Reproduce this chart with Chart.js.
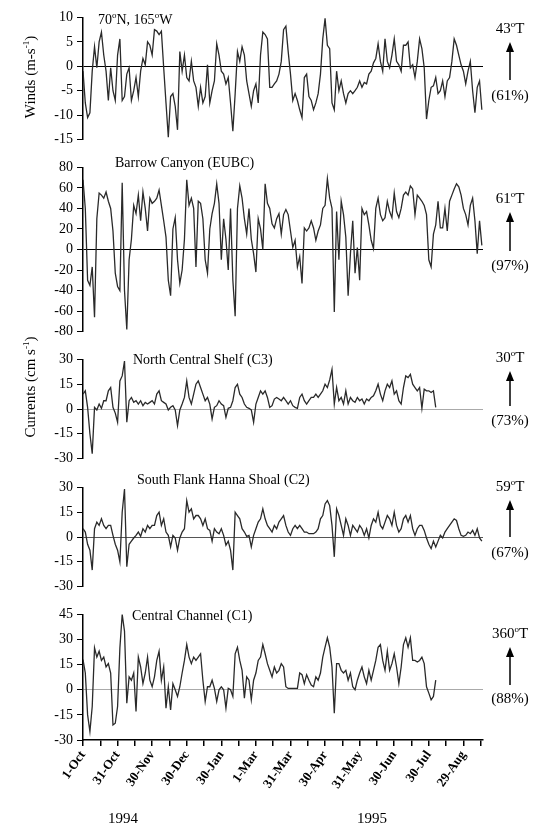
<!DOCTYPE html>
<html>
<head>
<meta charset="utf-8">
<script src="https://cdn.jsdelivr.net/npm/chart.js@4.4.1/dist/chart.umd.min.js"></script>
<style>
  body { margin: 0; background: #fff; }
  #wrap { position: relative; width: 539px; height: 827px; overflow: hidden; font-family: 'Liberation Serif', 'Times New Roman', serif; color: #000; }
  canvas { position: absolute; left: 0; }
  .t { position: absolute; font-size: 14px; line-height: 16px; white-space: nowrap; }
  .r { position: absolute; font-size: 15px; line-height: 16px; white-space: nowrap; transform: translateX(-50%); }
  .ylab { position: absolute; font-size: 15px; line-height: 16px; white-space: nowrap; transform: translate(-50%, -50%) rotate(-90deg); }
  .yr { position: absolute; font-size: 15px; line-height: 16px; transform: translateX(-50%); }
  sup { font-size: 9px; line-height: 0; vertical-align: super; }
</style>
</head>
<body>
<div id="wrap"></div>
<script>
// daily-ish series sampled every 2 days from 1 Oct 1994
const dayStep = 2;
const tickLabels = ['1-Oct', '31-Oct', '30-Nov', '30-Dec', '30-Jan', '1-Mar', '31-Mar', '30-Apr', '31-May', '30-Jun', '30-Jul', '29-Aug'];
const tickDays = [0, 30, 60, 90, 120, 150, 180, 210, 240, 270, 300, 330];

// winds, 70N 165W (m/s)
const winds = [
  -1, -7.5, -10.5, -9.5, -1, 4, -0.3, 5, 7, 2.3,
  -1, -7, -0.3, -5, -7, 2.3, 5.6, -7, -6.2, -1.6,
  -0.3, -7, -5, -2.3, -6.2, -1, 1.6, 0.3, 5, 4.3,
  2.3, 7.5, 7.2, 6.5, 7.2, -0.3, -7.5, -14.5, -6.2, -5.6,
  -8.2, -13, 3, -1, 2.3, -2.3, -3, 1, -3, -4.3,
  -8.2, -4.3, -7.5, -6.2, 0.3, -7.5, -5, -3, 4.6, 2.3,
  -1, -1.6, -3.6, -2.3, -7.5, -13.3, -5.6, 3, 1, 4,
  2.3, -3, -5.6, -8.2, -5, -3.6, -7.5, 2.3, 7, 6.5,
  5.6, -4.3, -4.3, -3.6, -3, -1.6, 1, 7.5, 8.2, 3,
  -1.6, -7, -5.6, -7, -8.9, -10.5, -2.3, -1.6, -6.2, -7,
  -8.9, -7.5, -5.6, -1.6, 5.6, 9.8, 4.3, 3.6, -7.5, -8.9,
  -1, -5, -3, -5.6, -7.5, -5.6, -5, -5.6, -5, -4.3,
  -3, -4.3, -3.3, -3.6, -1.6, -1, 0.7, 1.6, 4.6, 1,
  -1, 5.6, 1, -0.3, 2.3, 5.6, 1, 0.3, -1, 4.3,
  4.3, 5, -0.3, 0.3, -2.3, 1, 5.6, 3.6, -0.3, -10.8,
  -7, -4.3, -4, -2.3, -5.6, -5, -3, -6.2, -3, -2.3,
  1, 5.6, 4.3, 2.3, 0.3, -1, -3.6, -1, 1, -5,
  -9.5, -4.3, -3, -8.9
];

// Barrow Canyon (EUBC) current, cm/s
const barrow = [
  68, 40, -30, -35, -17, -66, 30, 55, 53, 50,
  56, 47, 40, 18, -23, -36, -40, 65, -40, -78,
  -10, 10, 43, 35, 53, 28, 56, 40, 18, 50,
  45, 47, 50, 58, 43, 28, 12, -30, -45, 20,
  31, -10, -33, -20, 10, 68, 43, 50, 40, -17,
  47, 45, 30, -10, -23, 20, 35, 45, 64, 45,
  -10, 30, 10, -20, 40, -30, -65, 40, 62, 50,
  30, 15, 40, 10, -4, -22, 30, 20, 0, 64,
  45, 40, 25, 21, 30, 35, 15, 34, 39, 34,
  18, 2, 9, -17, -7, -33, 21, 18, 21, 28,
  21, 9, 18, 24, 40, 43, 69, 50, 40, -61,
  37, -10, 47, 34, 12, -45, -4, 28, -23, 2,
  -30, 40, 34, 37, 24, 9, 1, 40, 50, 34,
  28, 31, 47, 37, 31, 55, 37, 31, 40, 53,
  56, 53, 62, 59, 34, 53, 50, 47, 43, 34,
  -10, -17, 15, 24, 47, 21, 21, 40, 18, 47,
  53, 59, 64, 61, 53, 40, 34, 24, 43, 50,
  28, -4, 28, 4
];

// North Central Shelf (C3)
const c3 = [
  9, 11, 1, -15, -27, 1, -0.6, 3, 0.4, 5,
  5, 11, 13, 1, -2.5, -8, 17, 20, 29, -8,
  5, 7, 4, 5, 3, 5, 2, 4, 3, 4,
  5, 3, 9, 11, 5, 4, 3, -0.6, 1, 2,
  -0.6, -10, -0.6, 3, 7, 17, 7, 3, 9, 15,
  17, 13, 9, 5, 7, 3, -6, 1, 2, 5,
  3, 2, -5, 0.4, 1, 5, 13, 15, 9, 7,
  3, 1, 0.4, -0.6, -8, 3, 7, 11, 9, 11,
  7, 1, 2, 6, 7, 6, 5, 7, 5, 3,
  5, 2, 1, 0.4, 7, 9, 5, 3, 5, 7,
  7, 9, 7, 9, 11, 15, 13, 17.6, 24, 3,
  13, 5, 7, 3, 11, 3, 7, 5, 4, 7,
  5, 6, 3, 6, 5, 7, 8, 11, 15, 9,
  5, 11, 15, 13, 17, 9, 11, 5, 3, 13,
  20, 19, 21, 15, 13, 11, 13, 0.4, 12, 11,
  11, 10, 11, 1, null, null, null, null, null, null,
  null, null, null, null, null, null, null, null, null, null,
  null, null, null, null
];

// South Flank Hanna Shoal (C2)
const c2 = [
  5, 3, -4.4, -8, -20, 5, 9, 7, 11, 7,
  5, 7, 7, 1, -4.4, -8, -15, 15, 29, -18,
  -4.4, -2.5, -0.6, 1, 3, 0.4, 5, 3, 7, 5,
  7, 7, 13, 15, 7, 11, 3, 1, -6, 1,
  -0.6, -8, -0.6, 3, 5, 22, 15, 17, 11, 13,
  13, 11, 7, 11, 5, 4, -2.5, 5, 3, 2,
  5, 1, -5, -2.5, -8, -20, 15, 13, 11, 5,
  3, 0.4, 1, -6, 1, 5, 9, 11, 17, 11,
  7, 5, 3, 7, 5, 9, 11, 13, 7, 3,
  1, 5, 7, 5, 7, 5, 3, 3, 2, 2,
  2, 3, 5, 11, 13, 20, 22, 19, 7, -12,
  17, 13, 7, 1, 11, 7, 1, 7, 5, 3,
  7, 5, 1, 5, -0.6, 7, 11, 9, 15, 7,
  5, 9, 13, 11, 7, 15, 7, 3, 5, 11,
  13, 9, 13, 5, 1, 5, 7, 7, 4, -0.6,
  -4.4, -7, -2.5, -6, -2.5, 1, -0.6, 3, 5, 7,
  9, 11, 10, 5, 1, 0.4, 1, 3, 2, 4,
  1, 5, -0.6, -2.5
];

// Central Channel (C1)
const c1 = [
  18, 10, -15, -25, -10, 25, 19.5, 23, 17.5, 19.5,
  13.6, 15.6, 10, -21, -20, -10, 25, 45, 35, -8,
  7.7, 5.7, 10, -13, 19.5, 13.6, 3.7, 10, 19.5, 5.7,
  1.8, 7.7, 17.5, 23, 5.7, 13.6, -11, 1.8, -12, 3.7,
  0, -4, 1.8, 10, 17.5, 27, 19.5, 15.6, 19.5, 17.5,
  19.5, 21.5, 5.7, -7, 1.8, 1.8, 5.7, 0.8, -7, 0,
  1.8, 0, -11, 0.8, 0, -4, 21.5, 25.4, 17.5, 11.6,
  -5, 7.7, 5.7, -6, 5.7, 10, 17.5, 19.5, 27, 21.5,
  15.6, 11.6, 7.7, 13.6, 10, 11.6, 15.6, 13.6, 1.8, 0.8,
  0.8, 0.8, 0.8, 0.8, 10, 9, 3.7, 9, 5.7, 2.8,
  1.8, 7.7, 5.7, 10, 19.5, 25.4, 31, 25.4, 13.6, -14,
  15.6, 15.6, 11.6, 10, 11.6, 5.7, 10, 1.8, 0, 5.7,
  10, 13.6, 7.7, 3.7, 11.6, 5.7, 11.6, 17.5, 25.4, 27,
  17.5, 11.6, 23, 11.6, 15.6, 21.5, 13.6, 3.7, 13.6, 27,
  31, 25.4, 31, 17.5, 17.5, 16.6, 17.5, 19.5, 15.6, 1.8,
  -2, -6, -4, 5.7, null, null, null, null, null, null,
  null, null, null, null, null, null, null, null, null, null,
  null, null, null, null
];

const serif = "'Liberation Serif', 'Times New Roman', serif";

const arrowPlugin = {
  id: 'sideArrow',
  afterDraw(chart, args, opts) {
    const c = chart.ctx;
    c.save();
    c.strokeStyle = '#000';
    c.fillStyle = '#000';
    c.lineWidth = 1.5;
    c.beginPath();
    c.moveTo(opts.x, opts.y1);
    c.lineTo(opts.x, opts.y0 + 8);
    c.stroke();
    c.beginPath();
    c.moveTo(opts.x, opts.y0);
    c.lineTo(opts.x - 4, opts.y0 + 10);
    c.lineTo(opts.x + 4, opts.y0 + 10);
    c.closePath();
    c.fill();
    c.restore();
  }
};

const panels = [
  { vals: winds, min: -15, max: 10, step: 5, top: 15, bottom: 142, zero: '#000', arrow: [42, 80] },
  { vals: barrow, min: -80, max: 80, step: 20, top: 165, bottom: 334, zero: '#000', arrow: [212, 251] },
  { vals: c3, min: -30, max: 30, step: 15, top: 357, bottom: 461, zero: '#aaa', arrow: [371, 406] },
  { vals: c2, min: -30, max: 30, step: 15, top: 485, bottom: 589, zero: '#555', arrow: [500, 537] },
  { vals: c1, min: -30, max: 45, step: 15, top: 612, bottom: 740, zero: '#aaa', arrow: [647, 685], xaxis: true }
];

const wrap = document.getElementById('wrap');

panels.forEach(p => {
  const cv = document.createElement('canvas');
  const cTop = p.top - 10;
  const h = p.xaxis ? 827 - cTop : p.bottom - p.top + 20;
  cv.width = 539;
  cv.height = h;
  cv.style.top = cTop + 'px';
  wrap.appendChild(cv);

  new Chart(cv, {
    type: 'line',
    data: {
      datasets: [{
        data: p.vals.map((v, i) => ({ x: i * dayStep, y: v })),
        borderColor: '#2a2a2a',
        borderWidth: 1.3,
        pointRadius: 0,
        tension: 0,
        spanGaps: false
      }]
    },
    options: {
      responsive: false,
      animation: false,
      layout: { padding: { top: 10, bottom: p.xaxis ? 0 : 10, left: 0, right: 56 } },
      plugins: {
        legend: { display: false },
        tooltip: { enabled: false },
        sideArrow: { x: 510, y0: p.arrow[0] - cTop, y1: p.arrow[1] - cTop }
      },
      scales: {
        x: {
          type: 'linear',
          min: 0,
          max: 347,
          display: !!p.xaxis,
          afterBuildTicks: s => { s.ticks = Array.from({ length: 24 }, (_, i) => ({ value: i * 15 })); },
          afterFit: s => { s.height = p.xaxis ? 87 : 0; },
          ticks: {
            autoSkip: false,
            maxRotation: 55,
            minRotation: 55,
            padding: 2,
            color: '#000',
            font: { family: serif, size: 13, weight: 'bold' },
            callback: v => { const k = tickDays.indexOf(v); return k >= 0 ? tickLabels[k] : ''; }
          },
          grid: { drawOnChartArea: false, tickColor: '#000', tickLength: 6, lineWidth: 1.5 },
          border: { color: '#000', width: 1.5 }
        },
        y: {
          min: p.min,
          max: p.max,
          afterFit: s => { s.width = 83; },
          ticks: { stepSize: p.step, color: '#000', padding: 4, font: { family: serif, size: 14 } },
          grid: {
            color: c => c.tick && c.tick.value === 0 ? p.zero : 'rgba(0,0,0,0)',
            tickColor: '#000',
            tickLength: 6,
            lineWidth: 1
          },
          border: { color: '#000', width: 1.5 }
        }
      }
    },
    plugins: [arrowPlugin]
  });
});

const texts = [
  ['t', 98, 12, '70<sup>o</sup>N, 165<sup>o</sup>W'],
  ['t', 115, 155, 'Barrow Canyon (EUBC)'],
  ['t', 133, 352, 'North Central Shelf (C3)'],
  ['t', 137, 472, 'South Flank Hanna Shoal (C2)'],
  ['t', 132, 608, 'Central Channel (C1)'],
  ['r', 510, 20, '43<sup>o</sup>T'], ['r', 510, 87, '(61%)'],
  ['r', 510, 190, '61<sup>o</sup>T'], ['r', 510, 257, '(97%)'],
  ['r', 510, 349, '30<sup>o</sup>T'], ['r', 510, 412, '(73%)'],
  ['r', 510, 478, '59<sup>o</sup>T'], ['r', 510, 544, '(67%)'],
  ['r', 510, 625, '360<sup>o</sup>T'], ['r', 510, 690, '(88%)'],
  ['yr', 123, 810, '1994'], ['yr', 372, 810, '1995']
];
texts.forEach(([cls, x, y, html]) => {
  const d = document.createElement('div');
  d.className = cls;
  d.style.left = x + 'px';
  d.style.top = y + 'px';
  d.innerHTML = html;
  wrap.appendChild(d);
});

[[30, 77, 'Winds (m-s<sup>-1</sup>)'], [30, 387, 'Currents (cm s<sup>-1</sup>)']].forEach(([x, y, html]) => {
  const d = document.createElement('div');
  d.className = 'ylab';
  d.style.left = x + 'px';
  d.style.top = y + 'px';
  d.innerHTML = html;
  wrap.appendChild(d);
});
</script>
</body>
</html>
